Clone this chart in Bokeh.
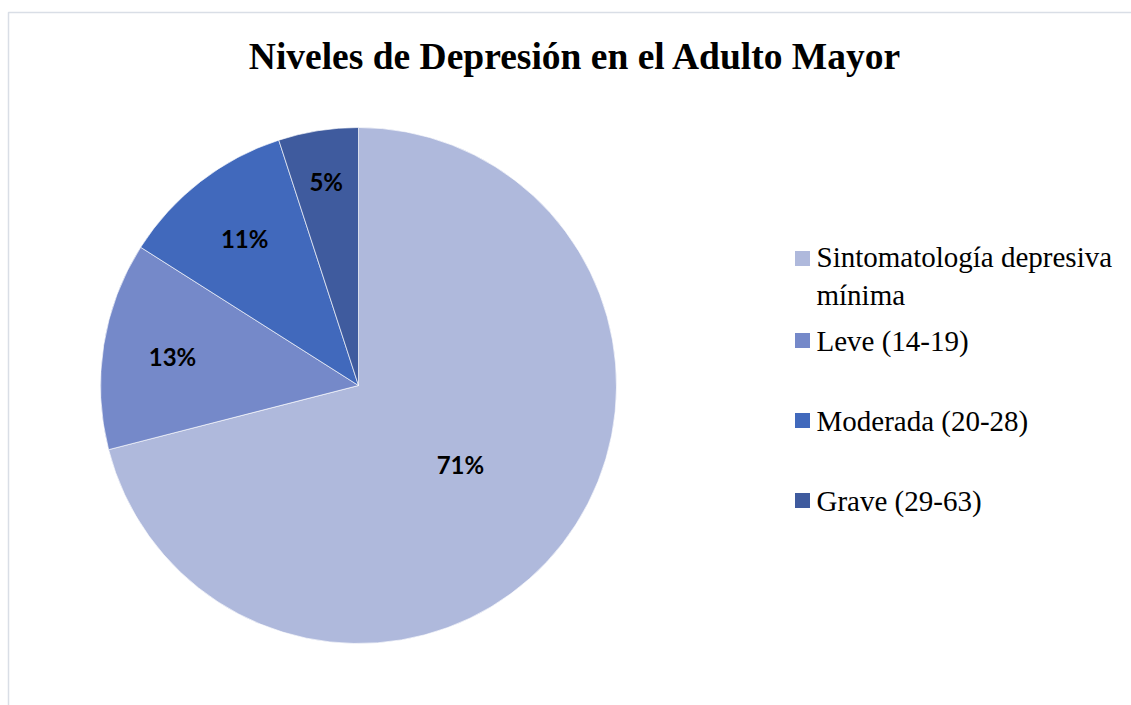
import numpy as np
from bokeh.plotting import figure
from bokeh.models import Range1d
from bokeh.core.properties import value
from bokeh.embed import file_html
from bokeh.resources import INLINE

# ---- data ----
title = "Niveles de Depresión en el Adulto Mayor"
categories = ["Sintomatología depresiva\nmínima", "Leve (14-19)", "Moderada (20-28)", "Grave (29-63)"]
percentages = [71, 13, 11, 5]
colors = ["#AFB9DC", "#7589C9", "#4169BC", "#3F5B9E"]

# ---- layout (pixel-like coordinates, y up) ----
W, H = 1131, 705
cx, cy, r = 358, H - 385, 258
label_r = [0.50, 0.73, 0.72, 0.80]

p = figure(width=W, height=H, output_backend="svg", toolbar_location=None,
           x_range=Range1d(0, W), y_range=Range1d(0, H), min_border=0)
p.axis.visible = False
p.grid.visible = False
p.outline_line_color = None
p.background_fill_color = "white"
p.border_fill_color = "white"

# chart frame
p.quad(left=8, right=W + 10, bottom=-10, top=H - 12, fill_color=None,
       line_color="#D9DEE6", line_width=1.5)

vals = np.array(percentages, dtype=float)
frac = vals / vals.sum()
cum = np.concatenate([[0], np.cumsum(frac)])
start = np.pi / 2 - 2 * np.pi * cum[:-1]
end = np.pi / 2 - 2 * np.pi * cum[1:]

p.wedge(x=cx, y=cy, radius=r, start_angle=start, end_angle=end, direction="clock",
        fill_color=colors, line_color="white", line_width=0.8, line_alpha=0.8)

mid = (start + end) / 2
lx = cx + np.array(label_r) * r * np.cos(mid)
ly = cy + np.array(label_r) * r * np.sin(mid)
p.text(x=lx, y=ly, text=[f"{v}%" for v in percentages], text_align="center",
       text_baseline="middle", text_font=value("Lato"), text_font_style="bold",
       text_font_size="24px", text_color="black")

# title
p.text(x=[575], y=[H - 56], text=[title], text_align="center", text_baseline="middle",
       text_font=value("Liberation Serif"), text_font_style="bold",
       text_font_size="37.5px", text_color="black")

# legend
leg_marker_y = [H - 258, H - 340, H - 420, H - 500]
leg_text_y = [H - 275.5, H - 340, H - 420, H - 500]
p.rect(x=[802] * 4, y=leg_marker_y, width=15, height=15, fill_color=colors, line_color=None)
p.text(x=[816] * 4, y=leg_text_y, text=categories, text_align="left", text_baseline="middle",
       text_font=value("Liberation Serif"), text_font_size="29px", text_color="black",
       text_line_height=1.2)

open("out.html", "w").write(file_html(p, INLINE))
